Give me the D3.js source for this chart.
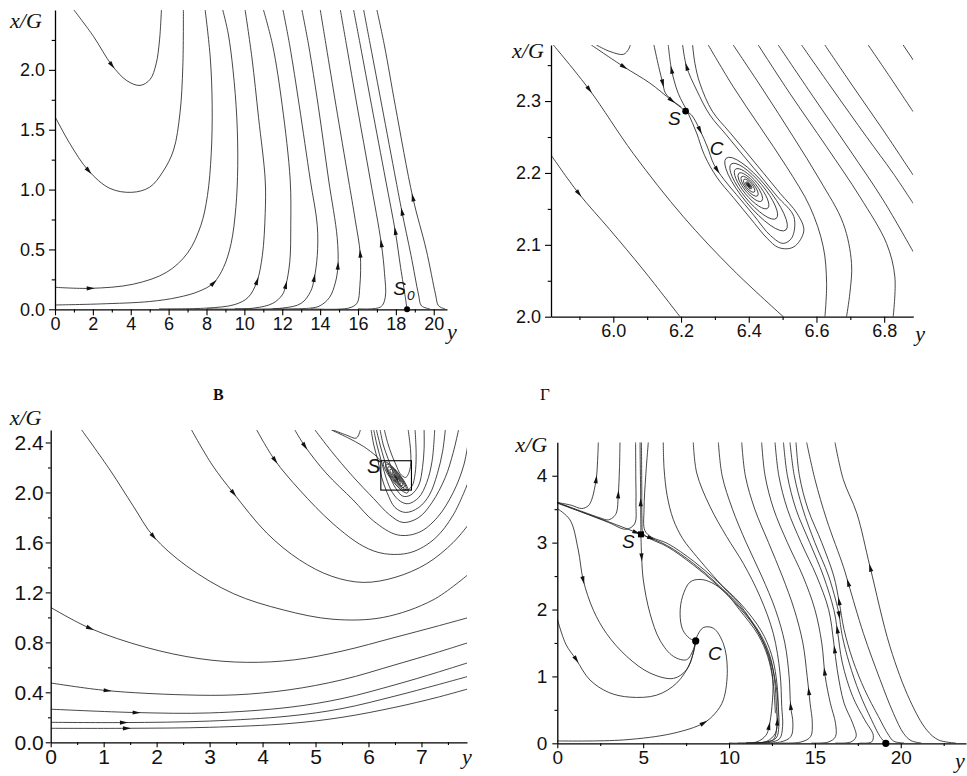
<!DOCTYPE html>
<html lang="ru">
<head>
<meta charset="utf-8">
<title>Фазовые портреты</title>
<script src="https://cdn.jsdelivr.net/npm/d3@7/dist/d3.min.js"></script>
<style>
  html, body { margin: 0; padding: 0; background: #fff; }
  svg { display: block; }
</style>
</head>
<body>
<svg id="fig" width="967" height="776" viewBox="0 0 967 776"></svg>
<script>
// ---------------- Panel A: (y, x/G) plane, wide view ----------------
const aC1  = [[1.0,2.5],[2.03,2.28],[3.0,2.04],[3.79,1.91],[4.49,1.87],[5.02,1.92],[5.34,2.05],[5.52,2.25],[5.62,2.5]];
const aC2  = [[0,1.61],[0.8,1.38],[1.76,1.16],[2.9,1.01],[4.05,0.977],[5.0,1.02],[5.7,1.15],[6.26,1.33],[6.6,1.64],[6.75,2.03],[6.78,2.5]];
const aC3  = [[0,0.184],[1.85,0.175],[4.14,0.21],[5.9,0.31],[7.0,0.47],[7.7,0.7],[8.05,0.95],[8.25,1.3],[8.3,1.7],[8.2,2.1],[7.93,2.5]];
const aC4  = [[0,0.036],[2.4,0.045],[5.0,0.065],[6.5,0.1],[7.6,0.15],[8.37,0.22],[8.9,0.35],[9.3,0.55],[9.55,0.85],[9.65,1.2],[9.6,1.6],[9.4,2.0],[9.15,2.3],[8.86,2.5]];
const aC5  = [[5.5,0.004],[8.0,0.01],[9.5,0.04],[10.2,0.1],[10.66,0.23],[10.95,0.45],[11.1,0.8],[11.1,1.08],[10.75,1.6],[10.4,2.1],[10.04,2.5]];
const aC6  = [[8.0,0.004],[10.5,0.01],[11.5,0.05],[12.0,0.12],[12.19,0.2],[12.4,0.4],[12.45,0.7],[12.42,1.08],[12.0,1.7],[11.5,2.2],[11.01,2.5]];
const aC7  = [[9.5,0.004],[12.0,0.01],[13.0,0.05],[13.5,0.15],[13.69,0.26],[13.85,0.45],[13.85,0.7],[13.48,1.08],[12.9,1.7],[12.4,2.2],[12.04,2.5]];
const aC8  = [[11.5,0.004],[13.5,0.01],[14.0,0.03],[14.5,0.1],[14.8,0.22],[14.94,0.36],[14.9,0.6],[14.45,1.08],[13.9,1.7],[13.4,2.2],[13.04,2.5]];
const aC9  = [[13.5,0.004],[15.5,0.01],[15.94,0.05],[16.1,0.2],[16.12,0.46],[15.85,0.75],[15.5,1.08],[14.84,1.7],[14.32,2.2],[14.01,2.5]];
const aC10 = [[16.0,0.004],[17.2,0.02],[17.44,0.1],[17.4,0.3],[17.23,0.55],[16.65,1.08],[15.95,1.7],[15.4,2.2],[15.07,2.5]];
const aC11 = [[18.59,0.0],[18.5,0.1],[18.25,0.35],[17.97,0.65],[17.46,1.08],[16.72,1.7],[16.13,2.2],[15.77,2.5]];
const aC12 = [[19.8,0.003],[19.35,0.03],[19.2,0.12],[18.8,0.45],[18.32,0.815],[18.0,1.08],[17.26,1.7],[16.66,2.2],[16.3,2.5]];
const aC13 = [[20.6,0.003],[20.25,0.03],[20.1,0.12],[19.6,0.5],[18.9,0.93],[17.97,1.7],[17.4,2.2],[17.0,2.5]];
const aCurves = [aC1,aC2,aC3,aC4,aC5,aC6,aC7,aC8,aC9,aC10,aC11,aC12,aC13];
const aArrows = [[aC1,3.0,2.04],[aC2,1.76,1.16],[aC3,1.85,0.175],[aC4,8.37,0.22],[aC5,10.66,0.23],[aC6,12.19,0.2],
  [aC7,13.69,0.26],[aC8,14.94,0.36],[aC9,16.12,0.46],[aC10,17.23,0.55],[aC11,17.97,0.65],[aC12,18.32,0.815],[aC13,18.9,0.93]];
const aXMajor = [0,2,4,6,8,10,12,14,16,18,20];
const aXMinor = [1,3,5,7,9,11,13,15,17,19];
const aYMajor = [0,0.5,1.0,1.5,2.0];
const aYMinor = [0.25,0.75,1.25,1.75,2.25];
const aDots = [[18.59,0]];
const aLabels = [{t:'S', sub:'0', x:17.86, y:0.119}];

// ---------------- Panel B: close-up near S and C ----------------
const bL1   = [[5.816,2.225],[5.897,2.172],[5.99,2.121],[6.089,2.065],[6.197,2.0]];
const bL2   = [[5.823,2.378],[5.929,2.316],[6.059,2.227],[6.207,2.139],[6.354,2.065],[6.502,2.0]];
const bHook = [[5.95,2.378],[5.99,2.369],[6.03,2.365],[6.045,2.372],[6.05,2.378]];
const bSepIn = [[5.935,2.378],[6.03,2.348],[6.108,2.325],[6.172,2.301],[6.214,2.286]];
const bVee  = [[6.12,2.378],[6.134,2.348],[6.146,2.325],[6.154,2.311],[6.177,2.300],[6.2,2.292]];
const bU1   = [[6.214,2.286],[6.2312,2.2805],[6.2558,2.2596],[6.278,2.236],[6.297,2.212],[6.3267,2.191],[6.3641,2.1697],[6.4143,2.1414],
  [6.4645,2.1127],[6.5018,2.102],[6.5274,2.1099],[6.5333,2.1391],[6.4831,2.1678],[6.433,2.1966],[6.3828,2.2248],
  [6.3326,2.2536],[6.2854,2.2805],[6.246,2.3153],[6.2165,2.3477],[6.2047,2.378]];
const bU2   = [[6.1624,2.378],[6.1722,2.3431],[6.1919,2.3106],[6.2203,2.2838],[6.2459,2.2557],[6.2696,2.2243],[6.3068,2.1933],
  [6.3542,2.166],[6.4044,2.1372],[6.4546,2.1089],[6.4871,2.0964],[6.5215,2.095],[6.5432,2.1011],[6.5628,2.1205],
  [6.5432,2.1433],[6.493,2.1715],[6.4428,2.2003],[6.3926,2.229],[6.3424,2.2573],[6.2922,2.286],[6.2558,2.3245],
  [6.2411,2.3523],[6.2342,2.378]];
const bD1 = [[6.856,2.378],[6.886,2.357]];
const bD2 = [[6.7528,2.378],[6.8167,2.3338],[6.8856,2.2851]];
const bD3 = [[6.6248,2.378],[6.7085,2.3199],[6.797,2.2596],[6.8856,2.197]];
const bD4 = [[6.556,2.378],[6.6494,2.3153],[6.7478,2.2503],[6.8266,2.1994],[6.8856,2.1576]];
const bD5 = [[6.4871,2.378],[6.5904,2.306],[6.6986,2.2318],[6.797,2.1623],[6.8856,2.0904]];
const bD6 = [[6.428,2.378],[6.5215,2.3106],[6.6298,2.2364],[6.7282,2.1669],[6.8069,2.102],[6.8315,2.0556],[6.8266,2.0]];
const bD7 = [[6.3542,2.378],[6.4428,2.3153],[6.5314,2.2503],[6.6101,2.1901],[6.679,2.1298],[6.7036,2.0742],[6.6986,2.0325],[6.6888,2.0]];
const bD8 = [[6.2804,2.378],[6.3542,2.3199],[6.433,2.2643],[6.5117,2.2086],[6.5806,2.153],[6.62,2.0974],[6.6299,2.0464],[6.625,2.0]];
const bCurves = [bL1,bL2,bHook,bSepIn,bVee,bU1,bU2,bD1,bD2,bD3,bD4,bD5,bD6,bD7,bD8];
// spiral loops around the focus: upper-left tip, lower-right tip, half-width (in units of the y axis variable)
const bRings = [
  [[6.3958,2.1852],[6.4040,2.1806],0.0025],
  [[6.3939,2.1863],[6.4059,2.1795],0.0034],
  [[6.3921,2.1874],[6.4084,2.1781],0.0049],
  [[6.3858,2.1910],[6.4166,2.1735],0.0089],
  [[6.3789,2.1949],[6.4260,2.1681],0.0128],
  [[6.3707,2.1995],[6.4385,2.1610],0.0177],
  [[6.3607,2.2052],[6.4561,2.1510],0.0236],
  [[6.3481,2.2124],[6.4812,2.1367],0.0305],
  [[6.3337,2.2206],[6.5095,2.1206],0.0374]];
const bArrows = [[bL1,5.897,2.172],[bL2,5.929,2.316],[bSepIn,6.03,2.348],[bSepIn,6.172,2.301],[bU1,6.2558,2.2596],
  [bU1,6.305,2.204],[bU1,6.2165,2.3477],[bU2,6.172,2.343,-1],[bVee,6.146,2.325]];
const bXMajor = [6.0,6.2,6.4,6.6,6.8];
const bXMinor = [5.9,6.1,6.3,6.5,6.7];
const bYMajor = [2.0,2.1,2.2,2.3];
const bYMinor = [2.05,2.15,2.25,2.35];
const bDots = [[6.2135,2.286]];
const bLabels = [{t:'S', x:6.1615, y:2.2666},{t:'C', x:6.285, y:2.225}];

// ---------------- Panel C (В) ----------------
const cB1 = [[0,0.112],[1.43,0.112],[3.0,0.12],[4.5,0.15],[5.5,0.2],[6.5,0.28],[7.3,0.36],[7.9,0.43]];
const cB2 = [[0,0.16],[1.37,0.158],[3.0,0.17],[4.5,0.21],[5.5,0.27],[6.5,0.37],[7.3,0.46],[7.9,0.53]];
const cB3 = [[0,0.265],[1.62,0.238],[3.0,0.235],[4.5,0.28],[5.5,0.35],[6.5,0.46],[7.3,0.56],[7.9,0.64]];
const cB4 = [[0,0.475],[1.06,0.414],[2.5,0.38],[3.5,0.38],[4.5,0.42],[5.5,0.5],[6.5,0.62],[7.3,0.72],[7.9,0.8]];
const cB5 = [[0,1.08],[0.74,0.913],[1.8,0.76],[2.8,0.67],[3.7,0.64],[4.6,0.66],[5.5,0.73],[6.5,0.84],[7.3,0.93],[7.9,1.0]];
const cT1 = [[0.585,2.5],[1.12,2.18],[1.56,1.89],[1.94,1.648],[2.57,1.41],[3.45,1.19],[4.39,1.06],[5.33,0.985],[6.28,1.0],[7.22,1.14],[7.9,1.35]];
const cT2 = [[2.66,2.5],[3.05,2.22],[3.45,1.995],[4.08,1.675],[4.7,1.46],[5.3,1.33],[5.9,1.28],[6.5,1.32],[7.1,1.43],[7.6,1.6],[7.9,1.75]];
const cT3 = [[3.89,2.5],[4.23,2.26],[4.7,2.02],[5.33,1.75],[5.9,1.57],[6.3,1.51],[6.8,1.52],[7.25,1.63],[7.6,1.82],[7.9,2.1]];
const cT4 = [[4.61,2.5],[4.8,2.37],[5.2,2.155],[5.71,1.94],[6.1,1.77],[6.55,1.66],[6.95,1.68],[7.3,1.8],[7.6,2.0],[7.8,2.22],[7.9,2.45]];
const cT5 = [[4.99,2.5],[5.3,2.33],[5.7,2.13],[6.1,1.95],[6.4,1.82],[6.65,1.76],[6.95,1.8],[7.2,1.92],[7.45,2.12],[7.6,2.32],[7.7,2.5]];
const cT6 = [[6.05,2.5],[6.1,2.38],[6.18,2.25],[6.25,2.12],[6.35,2.0],[6.5,1.88],[6.7,1.84],[6.95,1.88],[7.15,1.98],[7.3,2.15],[7.4,2.33],[7.45,2.5]];
const cT7 = [[6.1,2.5],[6.16,2.38],[6.25,2.24],[6.33,2.12],[6.45,2.0],[6.6,1.93],[6.75,1.91],[6.95,1.96],[7.1,2.08],[7.2,2.25],[7.25,2.5]];
const cT8 = [[6.15,2.5],[6.22,2.38],[6.3,2.26],[6.4,2.13],[6.52,2.03],[6.65,1.97],[6.8,1.98],[6.95,2.06],[7.02,2.2],[7.05,2.35],[7.05,2.5]];
const cT9 = [[6.22,2.5],[6.28,2.38],[6.37,2.27],[6.48,2.15],[6.6,2.06],[6.72,2.02],[6.82,2.05],[6.88,2.15],[6.9,2.3],[6.88,2.5]];
const cT10 = [[6.3,2.5],[6.36,2.4],[6.44,2.3],[6.52,2.22],[6.6,2.15],[6.7,2.12],[6.78,2.18],[6.8,2.3],[6.78,2.4],[6.75,2.5]];
const cSep  = [[5.3,2.5],[5.6,2.44],[5.9,2.37],[6.15,2.29],[6.245,2.249]];
const cHook = [[5.33,2.5],[5.58,2.46],[5.77,2.435],[5.84,2.49],[5.845,2.5]];
const cCurves = [cB1,cB2,cB3,cB4,cB5,cT1,cT2,cT3,cT4,cT5,cT6,cT7,cT8,cT9,cT10,cSep,cHook];
const cRings = [
  [[6.50,2.135],[6.56,2.10],0.012],
  [[6.48,2.148],[6.585,2.088],0.022],
  [[6.45,2.165],[6.61,2.073],0.034],
  [[6.41,2.185],[6.64,2.055],0.048],
  [[6.37,2.205],[6.67,2.04],0.062],
  [[6.33,2.225],[6.705,2.02],0.076],
  [[6.29,2.243],[6.74,1.998],0.09]];
const cArrows = [[cT1,1.94,1.648],[cT2,3.45,1.995],[cT3,4.23,2.26],[cT4,4.8,2.37],[cB5,0.74,0.913],
  [cB4,1.06,0.414],[cB3,1.62,0.238],[cB2,1.37,0.158],[cB1,1.43,0.112]];
const cXMajor = [0,1,2,3,4,5,6,7];
const cXMinor = [0.5,1.5,2.5,3.5,4.5,5.5,6.5,7.5];
const cYMajor = [0,0.4,0.8,1.2,1.6,2.0,2.4];
const cYMinor = [0.2,0.6,1.0,1.4,1.8,2.2];
const cFrame = [[6.233,2.254],[6.811,2.019]];
const cLabels = [{t:'S', x:5.97, y:2.158}];

// ---------------- Panel D (Г) ----------------
const dSep  = [[0,3.59],[1.5,3.45],[3.0,3.31],[4.87,3.124],[6.37,2.96],[7.92,2.69],[9.28,2.39],[10.64,2.04],[11.81,1.64],
  [12.39,1.30],[12.65,0.95],[12.76,0.55],[12.78,0.25],[12.6,0.06],[12.0,0.015],[10.5,0.004]];
const dUp1  = [[0,3.6],[0.8,3.56],[1.42,3.51],[1.8,3.55],[2.0,3.64],[2.2,3.85],[2.29,4.0],[2.36,4.3],[2.39,4.5]];
const dUp2  = [[0,3.6],[1.5,3.46],[2.5,3.37],[2.97,3.34],[3.3,3.39],[3.46,3.46],[3.55,3.71],[3.62,4.1],[3.65,4.5]];
const dVS   = [[4.87,3.124],[4.86,3.4],[4.85,3.8],[4.83,4.2],[4.82,4.5]];
const dVL   = [[4.56,4.5],[4.57,4.0],[4.58,3.6],[4.5,3.28],[4.0,3.2],[3.0,3.3],[1.5,3.45],[0,3.6]];
const dBu1  = [[10.0,0.005],[11.6,0.02],[12.15,0.12],[12.33,0.25],[12.5,0.55],[12.55,0.95],[12.3,1.3],[11.75,1.64],[10.6,2.03],
  [9.25,2.38],[7.9,2.67],[6.4,2.94],[5.4,3.06],[5.0,3.14],[4.93,3.35],[4.92,3.8],[4.9,4.5]];
const dBu2  = [[11.0,0.005],[12.2,0.03],[12.7,0.15],[12.82,0.32],[12.86,0.6],[12.75,0.98],[12.47,1.33],[11.88,1.68],[10.7,2.08],
  [9.32,2.42],[7.95,2.72],[6.4,2.99],[5.5,3.08],[5.1,3.18],[5.05,3.5],[5.15,4.0],[5.3,4.5]];
const dC1   = [[0,3.51],[0.74,3.34],[1.22,2.89],[1.51,2.44],[2.1,1.99],[2.87,1.64],[4.04,1.30],[5.4,1.05],[6.76,0.97],[7.53,1.10],[7.92,1.35],[8.06,1.53]];
const dC2   = [[0,1.86],[0.5,1.48],[1.09,1.256],[1.9,0.947],[3.0,0.76],[4.23,0.69],[5.79,0.72],[6.95,0.9],[7.73,1.2],[8.06,1.53]];
const dC3   = [[4.87,3.124],[4.91,2.79],[5.01,2.44],[5.4,1.94],[5.98,1.54],[6.76,1.30],[7.53,1.25],[7.92,1.40],[8.06,1.53]];
const dC4   = [[12.7,0.45],[12.55,0.95],[12.25,1.3],[11.7,1.62],[10.6,2.0],[9.8,2.25],[9.0,2.4],[8.31,2.45],[7.73,2.41],[7.3,2.2],
  [7.15,1.94],[7.3,1.7],[7.7,1.57],[8.06,1.53]];
const dCb   = [[0,0.035],[3.84,0.05],[6.76,0.15],[8.5,0.3],[9.2,0.45],[9.67,0.65],[9.9,1.10],[9.67,1.49],[9.09,1.72],[8.5,1.73],[8.12,1.59],[8.06,1.53]];
const dVa   = [[6.17,4.5],[6.22,4.1],[6.4,3.7],[6.75,3.35],[7.3,3.06],[8.12,2.79],[9.09,2.5],[9.9,2.27],[10.64,2.07],[11.6,1.7],
  [12.3,1.33],[12.7,0.93],[12.87,0.53],[12.9,0.25],[12.75,0.08],[12.2,0.02],[11,0.005]];
const dVb   = [[7.92,4.5],[8.12,4.04],[8.89,3.54],[9.86,3.09],[10.83,2.69],[11.81,2.19],[12.58,1.64],[12.97,1.05],[13.07,0.55],
  [13.12,0.25],[12.95,0.07],[12.4,0.015],[11.2,0.004]];
const dV1 = [[11.5,0.004],[13.0,0.02],[13.6,0.1],[13.72,0.3],[13.59,0.55],[13.5,1.0],[13.25,1.5],[12.7,2.0],[11.9,2.5],[11.0,3.0],[10.2,3.5],[9.6,4.0],[9.38,4.5]];
const dV2 = [[13.0,0.004],[14.2,0.02],[14.75,0.1],[14.85,0.3],[14.72,0.6],[14.55,1.0],[14.3,1.5],[13.8,2.0],[13.1,2.5],[12.3,3.0],[11.5,3.5],[10.95,4.0],[10.74,4.5]];
const dV3 = [[14.8,0.004],[15.8,0.02],[16.2,0.1],[16.2,0.3],[15.9,0.6],[15.6,1.0],[15.4,1.5],[15.0,2.0],[14.3,2.5],[13.4,3.0],[12.6,3.5],[12.1,4.0],[11.9,4.5]];
const dV4 = [[16.2,0.004],[17.1,0.02],[17.4,0.1],[17.2,0.3],[16.7,0.6],[16.3,1.1],[16.1,1.5],[15.8,2.0],[15.1,2.5],[14.2,3.0],[13.4,3.5],[12.9,4.0],[12.68,4.5]];
const dV5 = [[17.6,0.004],[18.3,0.02],[18.4,0.12],[17.9,0.35],[17.2,0.7],[16.6,1.2],[16.31,1.69],[16.1,2.0],[15.5,2.5],[14.7,3.0],[13.9,3.5],[13.4,4.0],[13.17,4.5]];
const dV6 = [[19.13,0.0],[18.8,0.1],[18.3,0.35],[17.6,0.75],[17.0,1.2],[16.6,1.6],[16.41,1.92],[16.35,2.0],[15.8,2.5],[15.0,3.0],[14.3,3.5],[13.8,4.0],[13.55,4.5]];
const dV7 = [[20.2,0.004],[19.6,0.03],[19.3,0.12],[18.7,0.4],[17.9,0.8],[17.2,1.25],[16.7,1.7],[16.41,2.12],[16.1,2.5],[15.4,3.0],[14.6,3.5],[14.1,4.0],[13.9,4.5]];
const dV8 = [[21.2,0.004],[20.6,0.04],[20.16,0.15],[19.57,0.45],[18.8,0.95],[17.83,1.64],[16.95,2.39],[16.66,2.64],[15.69,3.34],[15.01,3.94],[14.52,4.5]];
const dV9 = [[23.2,0.004],[22.2,0.05],[21.51,0.2],[20.54,0.64],[19.38,1.44],[18.21,2.64],[17.44,3.44],[16.66,3.94],[16.17,4.5]];
const dCurves = [dSep,dUp1,dUp2,dVS,dVL,dBu1,dBu2,dC1,dC2,dC3,dC4,dCb,dVa,dVb,dV1,dV2,dV3,dV4,dV5,dV6,dV7,dV8,dV9];
const dArrows = [[dUp1,2.29,3.94],[dUp2,3.55,3.71],[dVS,4.85,3.59],[dSep,4.6,3.16],[dSep,5.4,3.04],[dC3,4.95,2.79],
  [dC1,1.51,2.44],[dC2,1.09,1.256],[dCb,8.5,0.3],[dBu1,12.33,0.25],[dBu2,12.82,0.32],
  [dV1,13.59,0.55],[dV2,14.62,0.77],[dV3,15.53,1.07],[dV4,16.12,1.4],[dV5,16.31,1.69],[dV6,16.41,1.92,-1],
  [dV7,16.41,2.12],[dV8,16.95,2.39],[dV9,18.17,2.62]];
const dXMajor = [0,5,10,15,20];
const dXMinor = [2.5,7.5,12.5,17.5,22.5];
const dYMajor = [0,1,2,3,4];
const dYMinor = [0.5,1.5,2.5,3.5];
const dSaddle = [[4.87,3.124]];
const dDots = [[8.06,1.53],[19.13,0]];
const dLabels = [{t:'S', x:3.77, y:2.92},{t:'C', x:8.78, y:1.245}];

// ---------------- drawing ----------------
const svg = d3.select('#fig');
const defs = svg.append('defs');
const INK = '#262626';
const SANS = '"Liberation Sans", Arial, sans-serif';
const SERIF = '"Liberation Serif", "Times New Roman", serif';

function drawPanel(p) {
  const x = d3.scaleLinear().domain(p.xDomain).range([p.left, p.right]);
  const y = d3.scaleLinear().domain(p.yDomain).range([p.bottom, p.top]);
  const g = svg.append('g').attr('class', 'panel-' + p.id);

  defs.append('clipPath').attr('id', 'clip-' + p.id).append('rect')
    .attr('x', p.left).attr('y', p.top).attr('width', p.right - p.left).attr('height', p.bottom - p.top);
  const plot = g.append('g').attr('clip-path', `url(#clip-${p.id})`);

  const line = d3.line().x(d => x(d[0])).y(d => y(d[1])).curve(d3.curveCatmullRom.alpha(0.5));
  const nodes = new Map();
  p.curves.forEach(c => {
    const node = plot.append('path').datum(c).attr('d', line)
      .attr('fill', 'none').attr('stroke', INK).attr('stroke-width', 0.85).node();
    nodes.set(c, node);
  });

  // spiral loops drawn as elongated ellipses
  (p.rings || []).forEach(([ul, lr, hw], i) => {
    const x1 = x(ul[0]), y1 = y(ul[1]), x2 = x(lr[0]), y2 = y(lr[1]);
    const cx = (x1 + x2) / 2, cy = (y1 + y2) / 2;
    const rx = Math.hypot(x2 - x1, y2 - y1) / 2;
    const ry = Math.abs(x(ul[0] + hw) - x(ul[0]));
    const ang = Math.atan2(y2 - y1, x2 - x1) * 180 / Math.PI;
    plot.append('ellipse').attr('cx', cx).attr('cy', cy).attr('rx', rx).attr('ry', ry)
      .attr('transform', `rotate(${ang},${cx},${cy})`)
      .attr('fill', i === 0 ? '#111' : 'none').attr('stroke', INK).attr('stroke-width', 0.8);
  });

  // direction arrows placed on the nearest point of their curve
  (p.arrows || []).forEach(([c, ax, ay, dir = 1]) => {
    const node = nodes.get(c);
    const L = node.getTotalLength();
    const tx = x(ax), ty = y(ay);
    let best = 0, bd = Infinity;
    for (let s = 0; s <= L; s += 0.75) {
      const q = node.getPointAtLength(s);
      const dd = (q.x - tx) ** 2 + (q.y - ty) ** 2;
      if (dd < bd) { bd = dd; best = s; }
    }
    const q0 = node.getPointAtLength(Math.max(0, best - 3));
    const q1 = node.getPointAtLength(Math.min(L, best + 3));
    let a = Math.atan2(q1.y - q0.y, q1.x - q0.x);
    if (dir < 0) a += Math.PI;
    const c0 = node.getPointAtLength(best);
    const ux = Math.cos(a), uy = Math.sin(a);
    const tip = [c0.x + ux * 4.5, c0.y + uy * 4.5];
    const b1 = [c0.x - ux * 3.5 - uy * 2.1, c0.y - uy * 3.5 + ux * 2.1];
    const b2 = [c0.x - ux * 3.5 + uy * 2.1, c0.y - uy * 3.5 - ux * 2.1];
    plot.append('path').attr('d', `M${tip}L${b1}L${b2}Z`).attr('fill', '#111');
  });

  if (p.frame) {
    const [[fx0, fy0], [fx1, fy1]] = p.frame;
    g.append('rect').attr('x', x(fx0)).attr('y', y(fy0))
      .attr('width', x(fx1) - x(fx0)).attr('height', y(fy1) - y(fy0))
      .attr('fill', 'none').attr('stroke', '#000').attr('stroke-width', 1.1);
  }

  // axes with major and minor ticks
  const styleAxis = sel => {
    sel.selectAll('.domain').attr('stroke', '#000').attr('stroke-width', 1.3);
    sel.selectAll('.tick line').attr('stroke', '#000').attr('stroke-width', 1.1);
    sel.selectAll('text').attr('font-family', SANS).attr('font-size', p.font).attr('fill', '#111');
  };
  const gx = g.append('g').attr('transform', `translate(0,${p.bottom})`)
    .call(d3.axisBottom(x).tickValues(p.xMajor).tickSize(p.tick).tickSizeOuter(0).tickPadding(p.padX).tickFormat(p.xFmt));
  styleAxis(gx);
  const gxm = g.append('g').attr('transform', `translate(0,${p.bottom})`)
    .call(d3.axisBottom(x).tickValues(p.xMinor).tickSize(p.tick * 0.55).tickFormat(''));
  gxm.select('.domain').remove(); styleAxis(gxm);
  const gy = g.append('g').attr('transform', `translate(${p.left},0)`)
    .call(d3.axisLeft(y).tickValues(p.yMajor).tickSize(p.tick).tickSizeOuter(0).tickPadding(p.padY).tickFormat(p.yFmt));
  styleAxis(gy);
  const gym = g.append('g').attr('transform', `translate(${p.left},0)`)
    .call(d3.axisLeft(y).tickValues(p.yMinor).tickSize(p.tick * 0.55).tickFormat(''));
  gym.select('.domain').remove(); styleAxis(gym);

  // fixed points
  (p.dots || []).forEach(d => g.append('circle').attr('cx', x(d[0])).attr('cy', y(d[1])).attr('r', p.dotR || 3.2).attr('fill', '#000'));
  (p.squares || []).forEach(d => g.append('rect').attr('x', x(d[0]) - 3).attr('y', y(d[1]) - 3)
    .attr('width', 6).attr('height', 6).attr('fill', '#000'));

  // point names
  (p.labels || []).forEach(l => {
    const t = g.append('text').attr('x', x(l.x)).attr('y', y(l.y))
      .attr('font-family', SANS).attr('font-style', 'italic').attr('font-size', p.labelFont).attr('fill', '#111').text(l.t);
    if (l.sub) t.append('tspan').attr('dy', 5).attr('dx', 1).attr('font-size', p.labelFont * 0.72).text(l.sub);
  });

  // axis titles
  g.append('text').attr('x', p.left + p.yTitle[0]).attr('y', p.top + p.yTitle[1])
    .attr('font-family', SERIF).attr('font-style', 'italic').attr('font-size', 22).attr('fill', '#111').text('x/G');
  g.append('text').attr('x', p.right + p.xTitle[0]).attr('y', p.bottom + p.xTitle[1])
    .attr('font-family', SERIF).attr('font-style', 'italic').attr('font-size', 22).attr('fill', '#111').text('y');
}

const f1 = d3.format('.1f'), f0 = d3.format('d');

drawPanel({id:'a', left:55, right:447, top:10, bottom:309.3, xDomain:[0,20.7], yDomain:[0,2.5],
  curves:aCurves, arrows:aArrows, xMajor:aXMajor, xMinor:aXMinor, yMajor:aYMajor, yMinor:aYMinor,
  xFmt:f0, yFmt:f1, font:18, tick:6, padX:2, padY:4, dots:aDots, dotR:3, labels:aLabels, labelFont:19,
  yTitle:[-45, 18], xTitle:[0, 30]});

drawPanel({id:'b', left:551, right:913.3, top:45, bottom:316.7, xDomain:[5.816,6.886], yDomain:[2.0,2.378],
  curves:bCurves, rings:bRings, arrows:bArrows, xMajor:bXMajor, xMinor:bXMinor, yMajor:bYMajor, yMinor:bYMinor,
  xFmt:f1, yFmt:f1, font:18, tick:6, padX:2, padY:4, dots:bDots, dotR:3.3, labels:bLabels, labelFont:19,
  yTitle:[-39, 13], xTitle:[2, 24]});

drawPanel({id:'c', left:50.7, right:467, top:430, bottom:742.3, xDomain:[0,7.86], yDomain:[0,2.5],
  curves:cCurves, rings:cRings, arrows:cArrows, xMajor:cXMajor, xMinor:cXMinor, yMajor:cYMajor, yMinor:cYMinor,
  xFmt:f0, yFmt:f1, font:21, tick:5, padX:2, padY:2, frame:cFrame, labels:cLabels, labelFont:20,
  yTitle:[-41, -5], xTitle:[-5, 22]});

drawPanel({id:'d', left:557.3, right:966, top:442.3, bottom:743.3, xDomain:[0,23.8], yDomain:[0,4.5],
  curves:dCurves, arrows:dArrows, xMajor:dXMajor, xMinor:dXMinor, yMajor:dYMajor, yMinor:dYMinor,
  xFmt:f0, yFmt:f0, font:19, tick:5, padX:2, padY:5, dots:dDots, dotR:3.6, squares:dSaddle, labels:dLabels, labelFont:19,
  yTitle:[-42, 10], xTitle:[-11, 25]});

// panel letters
svg.append('text').attr('x', 213).attr('y', 400).attr('font-family', SERIF).attr('font-weight', 'bold')
  .attr('font-size', 16).attr('fill', '#111').text('В');
svg.append('text').attr('x', 540).attr('y', 400).attr('font-family', SERIF)
  .attr('font-size', 17).attr('fill', '#111').text('Г');
</script>
</body>
</html>
